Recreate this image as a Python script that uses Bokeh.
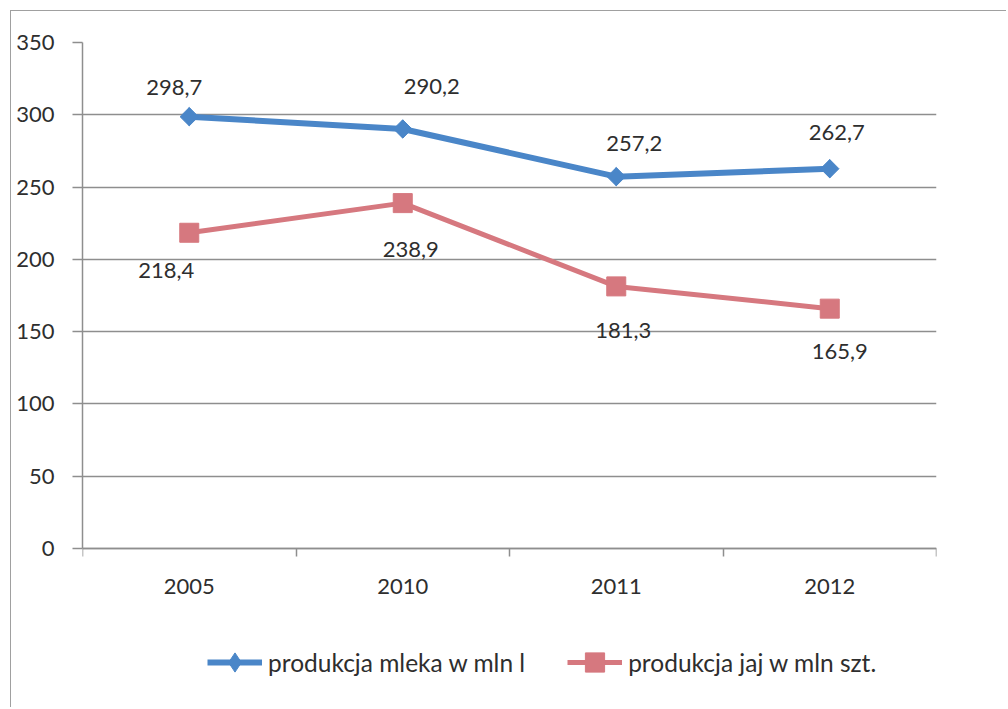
import math
from bokeh.plotting import figure
from bokeh.models import (Range1d, LinearAxis, FixedTicker, Legend, LegendItem, Grid)
from bokeh.core.properties import value
from bokeh.embed import file_html
from bokeh.resources import INLINE

# ---- data ----
years = ["2005", "2010", "2011", "2012"]
milk = [298.7, 290.2, 257.2, 262.7]
eggs = [218.4, 238.9, 181.3, 165.9]
y_ticks = [0, 50, 100, 150, 200, 250, 300, 350]
milk_name = "produkcja mleka w mln l"
eggs_name = "produkcja jaj w mln szt."

# ---- label placement (screen px, relative to each point) ----
milk_dx = [-15, 29, 18, 7]
milk_dy = [-29, -42, -33, -36]
eggs_dx = [-23, 8, 7, 10]
eggs_dy = [38, 46, 44, 43]


def fmt(v):
    return f"{v:.1f}".replace(".", ",")


# category slots: centre of slot i is i + 0.5, slot edges at integers
xs = [i + 0.5 for i in range(len(years))]
edges = list(range(len(years) + 1))

# layout (screen px inside the canvas)
CANVAS_H = 697
TOP = 31            # canvas top -> value 350
PLOT_H = 506        # value 350 -> value 0
BOTTOM = 5          # frame bottom -> canvas bottom
below_zero_px = CANVAS_H - TOP - PLOT_H - BOTTOM
y_top = y_ticks[-1]
y_low = -below_zero_px * y_top / PLOT_H

BLUE = "#4A86C8"
RED = "#D6787F"
GRID = "#8E8E8E"
TEXT = "#2E2E2E"
FONT = "Lato"
NUM_SIZE = "22px"

p = figure(width=996, height=CANVAS_H,
           x_range=Range1d(0, len(years)),
           y_range=Range1d(y_low, y_top),
           x_axis_type=None, y_axis_type=None,
           output_backend="svg", toolbar_location=None,
           min_border_left=71, min_border_right=71,
           min_border_top=TOP, min_border_bottom=BOTTOM)
p.background_fill_color = "white"
p.border_fill_color = "white"
p.outline_line_color = None
p.styles = {"margin-left": "10px", "margin-top": "10px",
            "border-left": "1px solid #A0A0A0", "border-top": "1px solid #A0A0A0"}

# y axis
yax = LinearAxis(ticker=FixedTicker(ticks=y_ticks), bounds=(0, y_top))
yax.major_tick_out = 10
yax.major_tick_in = 0
yax.minor_tick_line_color = None
yax.axis_line_color = GRID
yax.axis_line_width = 1.5
yax.major_tick_line_color = GRID
yax.major_tick_line_width = 1.5
yax.major_label_text_font = FONT
yax.major_label_text_font_size = NUM_SIZE
yax.major_label_text_color = TEXT
yax.major_label_standoff = 18
p.add_layout(yax, "left")

p.add_layout(Grid(dimension=1, ticker=FixedTicker(ticks=y_ticks),
                  grid_line_color=GRID, grid_line_width=1.5))

# x axis at value 0: labels at slot centres, tick marks at slot edges
xax = LinearAxis(ticker=FixedTicker(ticks=xs, minor_ticks=edges), fixed_location=0)
xax.major_label_overrides = {x: y for x, y in zip(xs, years)}
xax.axis_line_color = GRID
xax.axis_line_width = 1.5
xax.major_tick_line_color = None
xax.major_tick_out = 0
xax.major_tick_in = 0
xax.minor_tick_line_color = GRID
xax.minor_tick_line_width = 1.5
xax.minor_tick_out = 8
xax.minor_tick_in = 0
xax.major_label_text_font = FONT
xax.major_label_text_font_size = NUM_SIZE
xax.major_label_text_color = TEXT
xax.major_label_standoff = 22
p.add_layout(xax, "below")

# series
l1 = p.line(xs, milk, line_color=BLUE, line_width=6)
# diamond used as the legend key (legend glyphs are drawn unrotated); hidden under the plot markers
s1_key = p.scatter(xs, milk, marker="diamond", size=18,
                   fill_color=BLUE, line_color=BLUE)
s1 = p.scatter(xs, milk, marker="square", angle=math.pi / 4, size=13,
               fill_color=BLUE, line_color=BLUE)
l2 = p.line(xs, eggs, line_color=RED, line_width=5)
s2 = p.scatter(xs, eggs, marker="square", size=19,
               fill_color=RED, line_color=RED)

# data labels
p.text(x=xs, y=milk, text=[fmt(v) for v in milk], x_offset=milk_dx, y_offset=milk_dy,
       text_align="center", text_baseline="middle", text_font=value(FONT),
       text_font_size=NUM_SIZE, text_color=TEXT)
p.text(x=xs, y=eggs, text=[fmt(v) for v in eggs], x_offset=eggs_dx, y_offset=eggs_dy,
       text_align="center", text_baseline="middle", text_font=value(FONT),
       text_font_size=NUM_SIZE, text_color=TEXT)

legend = Legend(items=[LegendItem(label=milk_name, renderers=[l1, s1_key]),
                       LegendItem(label=eggs_name, renderers=[l2, s2])],
                orientation="horizontal", location=(125, 17),
                glyph_width=55, glyph_height=48, label_standoff=6, spacing=42,
                padding=0, margin=0, border_line_color=None, background_fill_alpha=0,
                label_text_font=FONT, label_text_font_size="24.5px", label_text_color=TEXT)
p.add_layout(legend, "center")

open("out.html", "w").write(file_html(p, INLINE))
